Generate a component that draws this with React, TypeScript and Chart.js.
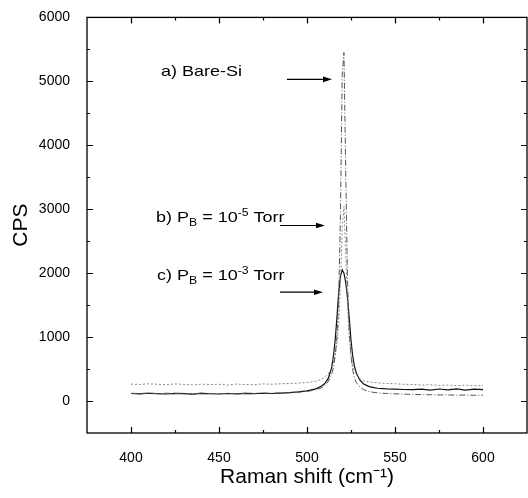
import { useEffect, useRef } from "react";
import { Chart, registerables } from "chart.js";

Chart.register(...registerables);

// Raman shift (cm^-1)
const ramanShift = [
  400, 405, 410, 415, 420, 425, 430, 435, 440, 445, 450, 455, 460, 465, 470, 475, 480, 485, 490, 495,
  500, 505, 508, 510, 512, 514, 515, 516, 517, 518, 519, 520, 521, 522, 523, 524, 525, 526, 527, 528,
  530, 532, 535, 538, 540, 545, 550, 555, 560, 565, 570, 575, 580, 585, 590, 595, 600,
];

// a) Bare-Si
const bareSi = [
  120, 118, 125, 115, 122, 118, 120, 112, 124, 118, 115, 120, 114, 122, 118, 125, 120, 128, 130, 138,
  150, 175, 205, 240, 300, 420, 520, 700, 1000, 1600, 2900, 5100, 5450, 3600, 1900, 1100, 700, 480, 360, 290,
  220, 180, 150, 135, 128, 118, 112, 108, 104, 100, 98, 96, 95, 92, 94, 90, 92,
];

// b) PB = 10^-5 Torr
const pb1e5 = [
  265, 258, 270, 262, 255, 268, 260, 252, 264, 258, 262, 250, 266, 258, 254, 268, 262, 270, 275, 280,
  290, 310, 340, 370, 420, 520, 600, 720, 900, 1200, 1800, 2700, 3050, 2300, 1500, 1000, 720, 560, 470, 410,
  350, 320, 300, 290, 285, 275, 270, 262, 258, 250, 255, 245, 250, 240, 248, 238, 245,
];

// c) PB = 10^-3 Torr
const pb1e3 = [
  118, 112, 122, 115, 110, 120, 116, 108, 120, 114, 110, 118, 112, 120, 115, 122, 118, 125, 132, 142,
  160, 190, 230, 270, 350, 520, 700, 950, 1300, 1700, 1950, 2050, 2000, 1850, 1620, 1300, 950, 700, 540, 440,
  330, 270, 230, 210, 200, 190, 185, 180, 178, 185, 172, 188, 175, 190, 170, 185, 178,
];

const xTicks = [400, 450, 500, 550, 600];
const xMinorTicks = [425, 475, 525, 575];
const yTicks = [0, 1000, 2000, 3000, 4000, 5000, 6000];
const yMinorTicks = [500, 1500, 2500, 3500, 4500, 5500];

type Part = [string, "n" | "sub" | "sup"];
const annotations: { parts: Part[]; x: number; y: number; from: [number, number]; to: [number, number] }[] = [
  { parts: [["a) Bare-Si", "n"]], x: 417, y: 5077, from: [488.6, 5031], to: [514.2, 5031] },
  {
    parts: [["b) P", "n"], ["B", "sub"], [" = 10", "n"], ["-5", "sup"], [" Torr", "n"]],
    x: 414.2, y: 2807, from: [484.7, 2745], to: [510.2, 2745],
  },
  {
    parts: [["c) P", "n"], ["B", "sub"], [" = 10", "n"], ["-3", "sup"], [" Torr", "n"]],
    x: 414.8, y: 1887, from: [484.7, 1702], to: [509.1, 1702],
  },
];

const FONT = "'Liberation Sans', Arial, Helvetica, sans-serif";

const framePlugin = {
  id: "frameAndTicks",
  afterDraw(chart: any) {
    const ctx = chart.ctx as CanvasRenderingContext2D;
    const { left, right, top, bottom } = chart.chartArea;
    const xs = chart.scales.x;
    const ys = chart.scales.y;
    ctx.save();
    ctx.strokeStyle = "#000";
    ctx.lineWidth = 1.3;
    ctx.strokeRect(left, top, right - left, bottom - top);
    ctx.lineWidth = 1.2;
    const drawX = (v: number, len: number) => {
      const px = Math.round(xs.getPixelForValue(v)) + 0.5;
      ctx.beginPath();
      ctx.moveTo(px, bottom);
      ctx.lineTo(px, bottom - len);
      ctx.moveTo(px, top);
      ctx.lineTo(px, top + len);
      ctx.stroke();
    };
    const drawY = (v: number, len: number) => {
      const py = Math.round(ys.getPixelForValue(v)) + 0.5;
      ctx.beginPath();
      ctx.moveTo(left, py);
      ctx.lineTo(left + len, py);
      ctx.moveTo(right, py);
      ctx.lineTo(right - len, py);
      ctx.stroke();
    };
    xTicks.forEach((v) => drawX(v, 6));
    xMinorTicks.forEach((v) => drawX(v, 3));
    yTicks.forEach((v) => drawY(v, 6));
    yMinorTicks.forEach((v) => drawY(v, 3));

    // annotations
    ctx.fillStyle = "#000";
    ctx.textBaseline = "alphabetic";
    ctx.textAlign = "left";
    const fs = 15;
    const stretch = 1.2;
    annotations.forEach((a) => {
      let cx = xs.getPixelForValue(a.x);
      const by = ys.getPixelForValue(a.y);
      a.parts.forEach(([t, kind]) => {
        const size = kind === "n" ? fs : fs * 0.68;
        const dy = kind === "sub" ? 4 : kind === "sup" ? -6 : 0;
        ctx.font = `${size}px ${FONT}`;
        ctx.save();
        ctx.translate(cx, by + dy);
        ctx.scale(stretch, 1);
        ctx.fillText(t, 0, 0);
        ctx.restore();
        cx += ctx.measureText(t).width * stretch;
      });
      const x1 = xs.getPixelForValue(a.from[0]);
      const y1 = ys.getPixelForValue(a.from[1]);
      const x2 = xs.getPixelForValue(a.to[0]);
      const y2 = ys.getPixelForValue(a.to[1]);
      ctx.lineWidth = 1.2;
      ctx.beginPath();
      ctx.moveTo(x1, y1);
      ctx.lineTo(x2 - 7, y2);
      ctx.stroke();
      ctx.beginPath();
      ctx.moveTo(x2, y2);
      ctx.lineTo(x2 - 9, y2 - 2.8);
      ctx.lineTo(x2 - 9, y2 + 2.8);
      ctx.closePath();
      ctx.fill();
    });
    ctx.restore();
  },
};

export default function App() {
  const ref = useRef<HTMLCanvasElement | null>(null);
  useEffect(() => {
    if (!ref.current) return;
    const mk = (ys: number[]) => ramanShift.map((x, i) => ({ x, y: ys[i] }));
    const chart = new Chart(ref.current, {
      type: "line",
      data: {
        datasets: [
          { label: "a) Bare-Si", data: mk(bareSi), borderColor: "#555", borderWidth: 1, borderDash: [6, 2, 1, 2], pointRadius: 0, tension: 0 },
          { label: "b) PB = 10-5 Torr", data: mk(pb1e5), borderColor: "#888", borderWidth: 1, borderDash: [2, 2], pointRadius: 0, tension: 0 },
          { label: "c) PB = 10-3 Torr", data: mk(pb1e3), borderColor: "#111", borderWidth: 1.2, pointRadius: 0, tension: 0 },
        ],
      },
      options: {
        responsive: false,
        animation: false,
        events: [],
        layout: { padding: { left: 0, right: 1, top: 10, bottom: 0 } },
        plugins: { legend: { display: false }, tooltip: { enabled: false } },
        scales: {
          x: {
            type: "linear",
            min: 375,
            max: 625,
            grid: { display: false },
            border: { display: false },
            afterBuildTicks: (s: any) => { s.ticks = xTicks.map((v) => ({ value: v })); },
            afterFit: (s: any) => { s.height = 65; },
            ticks: { color: "#000", padding: 9, font: { family: FONT, size: 14 }, callback: (v: any) => String(v) },
            title: { display: true, text: "Raman shift (cm⁻¹)", color: "#000", padding: { top: 0, bottom: 8 }, font: { family: FONT, size: 21 } },
          },
          y: {
            type: "linear",
            min: -500,
            max: 6000,
            grid: { display: false },
            border: { display: false },
            afterBuildTicks: (s: any) => { s.ticks = yTicks.map((v) => ({ value: v })); },
            afterFit: (s: any) => { s.width = 87; },
            ticks: { color: "#000", padding: 9, font: { family: FONT, size: 14 }, callback: (v: any) => String(v) },
            title: { display: true, text: "CPS", color: "#000", padding: { top: 9, bottom: 0 }, font: { family: FONT, size: 21 } },
          },
        },
      },
      plugins: [framePlugin],
    });
    return () => chart.destroy();
  }, []);
  return (
    <div style={{ position: "fixed", left: 0, top: 0, width: 528, height: 498, background: "#fff" }}>
      <canvas ref={ref} width={528} height={498} style={{ width: 528, height: 498, display: "block" }} />
    </div>
  );
}
